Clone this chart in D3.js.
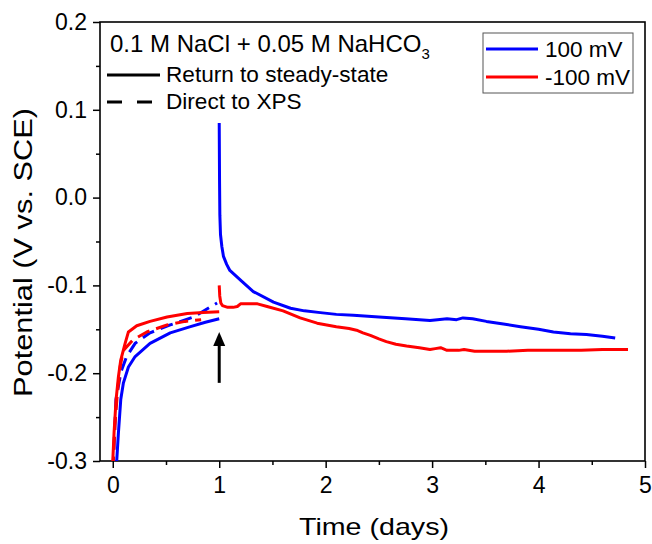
<!DOCTYPE html>
<html><head><meta charset="utf-8">
<script src="https://cdn.jsdelivr.net/npm/d3@7"></script>
<style>body{margin:0;background:#fff}svg text{font-family:"Liberation Sans",Arial,sans-serif;fill:#000}</style>
</head><body><svg id="c" width="652" height="544"></svg>
<script>
// ---- data ----
const xTicks = [0,1,2,3,4,5];
const yTicks = [-0.3,-0.2,-0.1,0.0,0.1,0.2];
const yTickLabels = ["-0.3","-0.2","-0.1","0.0","0.1","0.2"];
const blueSolidPre = [[0.030,-0.31],[0.037,-0.30],[0.053,-0.268],[0.075,-0.23],[0.10,-0.211],[0.147,-0.193],[0.21,-0.181],[0.35,-0.166],[0.54,-0.154],[0.73,-0.147],[0.87,-0.142],[1.0,-0.138]];
const blueDashed = [[0.003,-0.31],[0.006,-0.30],[0.03,-0.23],[0.078,-0.198],[0.13,-0.181],[0.21,-0.166],[0.35,-0.154],[0.54,-0.145],[0.76,-0.136],[0.98,-0.120]];
const blueSolidPost = [[1.0,0.085],[1.003,0.02],[1.006,-0.02],[1.012,-0.042],[1.025,-0.056],[1.04,-0.067],[1.07,-0.076],[1.10,-0.083],[1.2,-0.094],[1.32,-0.107],[1.51,-0.119],[1.67,-0.126],[1.8,-0.129],[1.95,-0.131],[2.1,-0.133],[2.26,-0.134],[2.5,-0.136],[2.75,-0.138],[2.98,-0.140],[3.05,-0.139],[3.14,-0.138],[3.23,-0.139],[3.29,-0.137],[3.38,-0.138],[3.51,-0.141],[3.67,-0.144],[3.83,-0.147],[4.0,-0.150],[4.14,-0.153],[4.3,-0.155],[4.45,-0.156],[4.6,-0.158],[4.72,-0.160]];
const redSolidPre = [[-0.002,-0.31],[0.0,-0.30],[0.012,-0.268],[0.031,-0.23],[0.053,-0.204],[0.075,-0.185],[0.116,-0.166],[0.147,-0.153],[0.225,-0.146],[0.35,-0.141],[0.51,-0.136],[0.7,-0.132],[0.85,-0.131],[1.0,-0.130]];
const redDashed = [[0.003,-0.31],[0.005,-0.30],[0.02,-0.26],[0.045,-0.22],[0.07,-0.192],[0.10,-0.174],[0.19,-0.162],[0.32,-0.153],[0.51,-0.145],[0.68,-0.141],[0.83,-0.139]];
const redSolidPost = [[1.0,-0.100],[1.005,-0.112],[1.015,-0.120],[1.03,-0.123],[1.08,-0.125],[1.13,-0.125],[1.17,-0.124],[1.2,-0.121],[1.28,-0.121],[1.36,-0.121],[1.45,-0.124],[1.6,-0.129],[1.76,-0.137],[1.92,-0.143],[2.1,-0.147],[2.22,-0.149],[2.29,-0.151],[2.35,-0.154],[2.42,-0.157],[2.5,-0.161],[2.57,-0.164],[2.66,-0.167],[2.76,-0.169],[2.88,-0.171],[2.98,-0.173],[3.03,-0.172],[3.08,-0.171],[3.14,-0.174],[3.25,-0.174],[3.3,-0.173],[3.4,-0.175],[3.51,-0.175],[3.7,-0.175],[3.9,-0.174],[4.14,-0.174],[4.4,-0.174],[4.6,-0.173],[4.84,-0.173]];
const arrowX = 1.0, arrowFrom = -0.211, arrowTo = -0.153;
const seriesNames = ["100 mV","-100 mV"];
const seriesColors = ["#0000ff","#ff0000"];
const styleNames = ["Return to steady-state","Direct to XPS"];

// ---- layout ----
const L=100,R=645,T=22,B=461;
const svg=d3.select("#c");
const x=d3.scaleLinear().domain([-0.12,5]).range([L,R]);
const y=d3.scaleLinear().domain([-0.3,0.2]).range([B,T]);

svg.append("defs").append("clipPath").attr("id","clip").append("rect")
  .attr("x",L).attr("y",T).attr("width",R-L).attr("height",B-T);

// minor ticks
const minorX = d3.range(0.5,5,1);
const minorY = d3.range(-0.25,0.2,0.1);
svg.append("g").attr("transform",`translate(0,${B})`)
  .call(d3.axisBottom(x).tickValues(minorX).tickSize(4).tickFormat(""))
  .call(g=>g.select(".domain").remove()).selectAll("line").attr("stroke-width",1.5);
svg.append("g").attr("transform",`translate(${L},0)`)
  .call(d3.axisLeft(y).tickValues(minorY).tickSize(4).tickFormat(""))
  .call(g=>g.select(".domain").remove()).selectAll("line").attr("stroke-width",1.5);

// major axes
const gx=svg.append("g").attr("transform",`translate(0,${B})`)
  .call(d3.axisBottom(x).tickValues(xTicks).tickSize(7).tickPadding(9).tickFormat(d3.format("d")));
gx.select(".domain").remove();
gx.selectAll("line").attr("stroke-width",1.5);
gx.selectAll("text").attr("font-size",23).attr("font-family","Liberation Sans, Arial, sans-serif").attr("fill","#000");

const gy=svg.append("g").attr("transform",`translate(${L},0)`)
  .call(d3.axisLeft(y).tickValues(yTicks).tickSize(7).tickPadding(6).tickFormat((d,i)=>yTickLabels[i]));
gy.select(".domain").remove();
gy.selectAll("line").attr("stroke-width",1.5);
gy.selectAll("text").attr("font-size",23).attr("font-family","Liberation Sans, Arial, sans-serif").attr("fill","#000");

// frame
svg.append("rect").attr("x",L).attr("y",T).attr("width",R-L).attr("height",B-T)
  .attr("fill","none").attr("stroke","#000").attr("stroke-width",1.6);

// lines
const line=d3.line().x(d=>x(d[0])).y(d=>y(d[1]));
const plot=svg.append("g").attr("clip-path","url(#clip)");
const series=[
  {d:blueSolidPre,c:0,dash:null},
  {d:blueDashed,c:0,dash:"13,7"},
  {d:redDashed,c:1,dash:"13,7"},
  {d:redSolidPre,c:1,dash:null},
  {d:blueSolidPost,c:0,dash:null},
  {d:redSolidPost,c:1,dash:null}
];
series.forEach(s=>{
  plot.append("path").attr("d",line(s.d)).attr("fill","none")
    .attr("stroke",seriesColors[s.c]).attr("stroke-width",3)
    .attr("stroke-linejoin","round")
    .attr("stroke-dasharray",s.dash);
});

// arrow
const ax=x(arrowX), ay1=y(arrowFrom), ay2=y(arrowTo);
svg.append("line").attr("x1",ax).attr("x2",ax).attr("y1",ay1).attr("y2",ay2+12)
  .attr("stroke","#000").attr("stroke-width",3);
svg.append("path").attr("d",`M${ax},${ay2} L${ax-6},${ay2+14} L${ax+6},${ay2+14} Z`).attr("fill","#000");

// annotation
const ann=svg.append("text").attr("x",110).attr("y",52).attr("font-size",24);
ann.append("tspan").text("0.1 M NaCl + 0.05 M NaHCO");
ann.append("tspan").attr("font-size",15).attr("dy",7).text("3");

svg.append("line").attr("x1",107).attr("x2",160).attr("y1",75).attr("y2",75).attr("stroke","#000").attr("stroke-width",3);
svg.append("text").attr("x",166).attr("y",82).attr("font-size",22.6).text(styleNames[0]);
svg.append("line").attr("x1",107).attr("x2",153).attr("y1",102).attr("y2",102).attr("stroke","#000").attr("stroke-width",3).attr("stroke-dasharray","15,15");
svg.append("text").attr("x",166).attr("y",108.5).attr("font-size",22.6).text(styleNames[1]);

// legend
svg.append("rect").attr("x",483).attr("y",33).attr("width",150).attr("height",60)
  .attr("fill","#fff").attr("stroke","#555").attr("stroke-width",1);
seriesNames.forEach((n,i)=>{
  const ly=49+i*28;
  svg.append("line").attr("x1",486).attr("x2",538).attr("y1",ly).attr("y2",ly)
    .attr("stroke",seriesColors[i]).attr("stroke-width",3);
  svg.append("text").attr("x",545).attr("y",ly+8).attr("font-size",22.5).text(n);
});

// axis titles
svg.append("text").attr("x",374).attr("y",535).attr("font-size",24).attr("text-anchor","middle")
  .attr("textLength",150).attr("lengthAdjust","spacingAndGlyphs").text("Time (days)");
svg.append("text").attr("transform","translate(32,252.5) rotate(-90)").attr("font-size",26)
  .attr("text-anchor","middle").attr("textLength",289).attr("lengthAdjust","spacingAndGlyphs")
  .text("Potential (V vs. SCE)");
</script></body></html>
